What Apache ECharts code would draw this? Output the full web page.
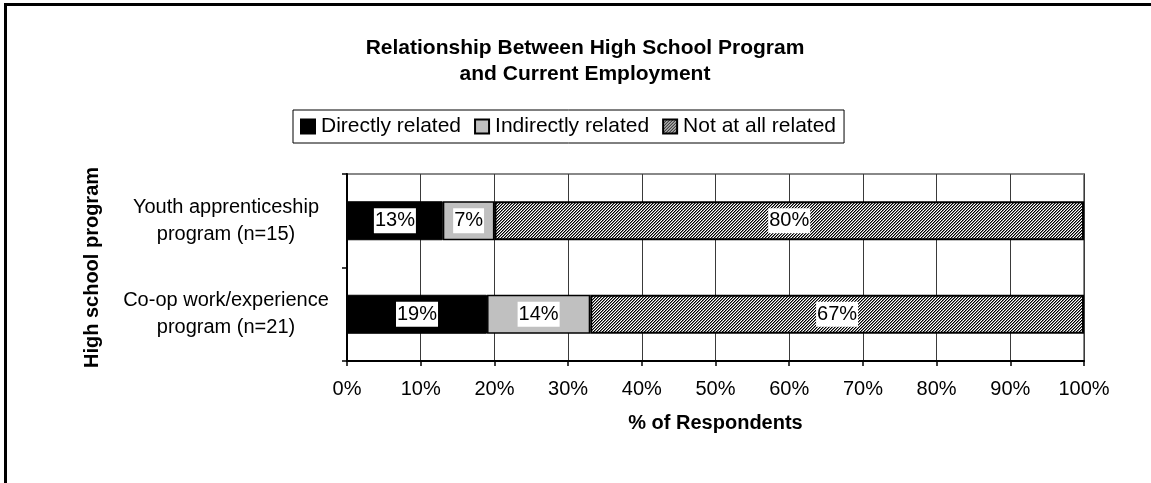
<!DOCTYPE html>
<html>
<head>
<meta charset="utf-8">
<script src="https://cdn.jsdelivr.net/npm/echarts@6/dist/echarts.min.js"></script>
<style>
  html, body { margin: 0; padding: 0; background: #fff; }
  #chart { width: 1151px; height: 483px; }
</style>
</head>
<body>
<div id="chart"></div>
<script>
// Survey results: share of respondents by how related their job is to their program
const programs = ['Youth apprenticeship\nprogram (n=15)', 'Co-op work/experience\nprogram (n=21)'];
const directlyRelated = [13, 19];
const indirectlyRelated = [7, 14];
const notAtAllRelated = [80, 67];
const percentTicks = [0, 10, 20, 30, 40, 50, 60, 70, 80, 90, 100];

const FONT = 'Liberation Sans, Arial, sans-serif';

// Fine upward-diagonal hatch used for the "Not at all related" fill
function hatchTile() {
  const c = document.createElement('canvas');
  c.width = 3; c.height = 3;
  const ctx = c.getContext('2d');
  const shades = ['#000000', '#7a7a7a', '#ffffff'];
  for (let x = 0; x < 3; x++) {
    for (let y = 0; y < 3; y++) {
      ctx.fillStyle = shades[(x + y) % 3];
      ctx.fillRect(x, y, 1, 1);
    }
  }
  return c;
}
const hatch = { image: hatchTile(), repeat: 'repeat' };

const chart = echarts.init(document.getElementById('chart'), null, { renderer: 'canvas' });

const labelStyle = {
  show: true,
  position: 'inside',
  color: '#000',
  fontFamily: FONT,
  fontSize: 20,
  backgroundColor: '#fff',
  padding: [3, 1, 2, 1],
  formatter: p => Math.round(p.value) + '%'
};

function barSeries(name, values, color, borderWidth) {
  return {
    name: name,
    type: 'bar',
    stack: 'total',
    barWidth: 39,
    data: values,
    itemStyle: { color: color, borderColor: '#000', borderWidth: borderWidth },
    label: labelStyle,
    emphasis: { disabled: true }
  };
}

chart.setOption({
  animation: false,
  backgroundColor: '#fff',
  textStyle: { fontFamily: FONT },
  graphic: [{
    type: 'rect',
    shape: { x: 5.5, y: 4.5, width: 1400, height: 800 },
    style: { fill: 'none', stroke: '#000', lineWidth: 3 },
    silent: true,
    z: 100
  }],
  title: {
    text: 'Relationship Between High School Program\nand Current Employment',
    left: 580,
    textAlign: 'center',
    top: 30,
    textStyle: { fontFamily: FONT, fontSize: 21, fontWeight: 'bold', color: '#000', lineHeight: 26 }
  },
  legend: {
    left: 293,
    top: 110,
    orient: 'horizontal',
    itemWidth: 14,
    itemHeight: 14,
    itemGap: 13,
    padding: [6, 8, 6, 7],
    borderColor: '#000',
    borderWidth: 1,
    backgroundColor: '#fff',
    icon: 'rect',
    selectedMode: false,
    textStyle: { fontFamily: FONT, fontSize: 21, color: '#000', padding: [0, 0, 0, 1] },
    data: ['Directly related', 'Indirectly related', 'Not at all related']
  },
  grid: {
    left: 347,
    top: 174,
    width: 737,
    height: 187,
    show: true,
    borderColor: '#888',
    borderWidth: 2,
    backgroundColor: '#fff'
  },
  xAxis: {
    type: 'value',
    min: 0,
    max: 100,
    interval: 10,
    name: '% of Respondents',
    nameLocation: 'middle',
    nameGap: 52,
    nameTextStyle: { fontFamily: FONT, fontSize: 20, fontWeight: 'bold', color: '#000' },
    axisLine: { show: true, lineStyle: { color: '#000', width: 2 } },
    axisTick: { show: true, length: 5, lineStyle: { color: '#000', width: 1.5 } },
    axisLabel: {
      margin: 18,
      color: '#000',
      fontFamily: FONT,
      fontSize: 20,
      formatter: v => (percentTicks.includes(v) ? v + '%' : '')
    },
    splitLine: { show: true, lineStyle: { color: '#3a3a3a', width: 1 } }
  },
  yAxis: {
    type: 'category',
    inverse: true,
    data: programs,
    name: 'High school program',
    nameLocation: 'middle',
    nameRotate: 90,
    nameGap: 245,
    nameTextStyle: { fontFamily: FONT, fontSize: 20, fontWeight: 'bold', color: '#000' },
    axisLine: { show: true, lineStyle: { color: '#000', width: 2 } },
    axisTick: { show: true, length: 5, alignWithLabel: false, lineStyle: { color: '#000', width: 1.5 } },
    axisLabel: {
      margin: 121,
      align: 'center',
      color: '#000',
      fontFamily: FONT,
      fontSize: 20,
      lineHeight: 27
    },
    splitLine: { show: false }
  },
  series: [
    barSeries('Directly related', directlyRelated, '#000000', 1),
    barSeries('Indirectly related', indirectlyRelated, '#c0c0c0', 1.5),
    barSeries('Not at all related', notAtAllRelated, hatch, 2)
  ]
});
</script>
</body>
</html>
